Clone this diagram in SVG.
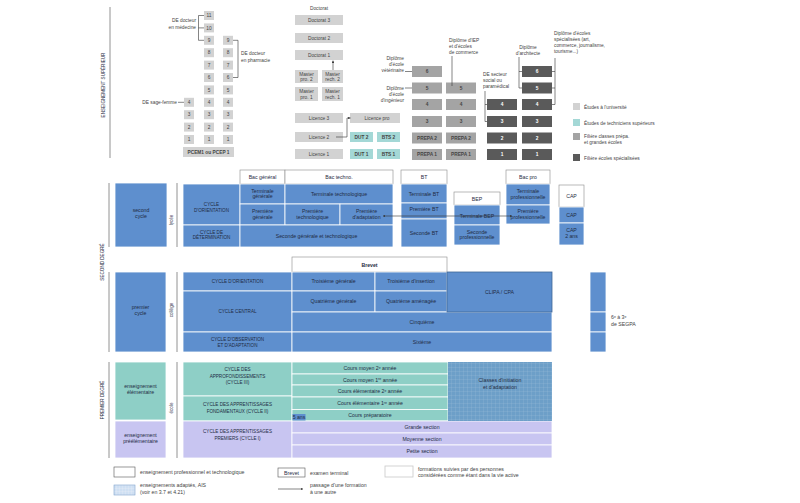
<svg xmlns="http://www.w3.org/2000/svg" width="800" height="503" viewBox="0 0 800 503">
<style>
text{font-family:"Liberation Sans",Arial,sans-serif;font-size:5.2px;fill:#1f2c44;text-anchor:middle}
.l{text-anchor:start}.r{text-anchor:end}
.g{fill:#444}.w{fill:#fff}
.cap{font-size:4.6px}
.sm{font-size:4.8px}
.u{fill:#d2d2d2}
.tc{fill:#a4d8d6}
.pp{fill:#a4a4a4}
.dk{fill:#5a5a5a}
.b{fill:#5e8fce;stroke:#fff;stroke-width:0.8}
.te{fill:#8ecfc6;stroke:#fff;stroke-width:0.8}
.lv{fill:#c8c5f1;stroke:#fff;stroke-width:0.8}
.h{fill:#fff;stroke:#8a8a8a;stroke-width:0.6}
.c{fill:none;stroke:#333;stroke-width:0.6}
.rule{fill:none;stroke:#777;stroke-width:0.8}
</style>
<defs>
<marker id="ah" viewBox="0 0 6 6" refX="6" refY="3" markerWidth="4" markerHeight="4" orient="auto-start-reverse"><path d="M0,0 L6,3 L0,6 z" fill="#333"/></marker>
<pattern id="grid" width="4" height="4" patternUnits="userSpaceOnUse"><rect width="4" height="4" fill="#6d9fc8"/><path d="M4 0V4H0" fill="none" stroke="#a3c3de" stroke-width="0.4"/></pattern>
<pattern id="gridl" width="3" height="3" patternUnits="userSpaceOnUse"><rect width="3" height="3" fill="#cfe0f3"/><path d="M3 0V3H0" fill="none" stroke="#f4f8fc" stroke-width="0.4"/></pattern>
</defs>

<!-- section labels and rules -->
<g id="sections">
<line class="rule" x1="110" y1="7" x2="110" y2="158"/>
<text class="cap" transform="translate(105,85) rotate(-90)">ENSEIGNEMENT SUPÉRIEUR</text>
<line class="rule" x1="109" y1="183" x2="109" y2="247"/>
<line class="rule" x1="109" y1="272" x2="109" y2="352"/>
<text class="cap" transform="translate(104,262) rotate(-90)">SECOND DEGRÉ</text>
<line class="rule" x1="109" y1="362" x2="109" y2="458"/>
<text class="cap" transform="translate(104,400) rotate(-90)">PREMIER DEGRÉ</text>
<line class="rule" x1="177" y1="183" x2="177" y2="247"/>
<text class="cap" transform="translate(173,220) rotate(-90)">lycée</text>
<line class="rule" x1="177" y1="272" x2="177" y2="352"/>
<text class="cap" transform="translate(173,310) rotate(-90)">collège</text>
<line class="rule" x1="177" y1="362" x2="177" y2="458"/>
<text class="cap" transform="translate(173,408) rotate(-90)">école</text>
</g>

<!-- medical studies -->
<g id="medecine-sagefemme">
<rect class="u" x="184" y="97.8" width="10" height="9"/><text class="g sm" x="189" y="104">4</text>
<rect class="u" x="184" y="110.2" width="10" height="9"/><text class="g sm" x="189" y="116.4">3</text>
<rect class="u" x="184" y="122.6" width="10" height="9"/><text class="g sm" x="189" y="128.8">2</text>
<rect class="u" x="184" y="135" width="10" height="9"/><text class="g sm" x="189" y="141.2">1</text>
</g>
<g id="medecine">
<rect class="u" x="204" y="11" width="10" height="9"/><text class="g sm" x="209" y="17.2">11</text>
<rect class="u" x="204" y="23.4" width="10" height="9"/><text class="g sm" x="209" y="29.6">10</text>
<rect class="u" x="204" y="35.8" width="10" height="9"/><text class="g sm" x="209" y="42">9</text>
<rect class="u" x="204" y="48.2" width="10" height="9"/><text class="g sm" x="209" y="54.4">8</text>
<rect class="u" x="204" y="60.6" width="10" height="9"/><text class="g sm" x="209" y="66.8">7</text>
<rect class="u" x="204" y="73" width="10" height="9"/><text class="g sm" x="209" y="79.2">6</text>
<rect class="u" x="204" y="85.4" width="10" height="9"/><text class="g sm" x="209" y="91.6">5</text>
<rect class="u" x="204" y="97.8" width="10" height="9"/><text class="g sm" x="209" y="104">4</text>
<rect class="u" x="204" y="110.2" width="10" height="9"/><text class="g sm" x="209" y="116.4">3</text>
<rect class="u" x="204" y="122.6" width="10" height="9"/><text class="g sm" x="209" y="128.8">2</text>
<rect class="u" x="204" y="135" width="10" height="9"/><text class="g sm" x="209" y="141.2">1</text>
</g>
<g id="pharmacie">
<rect class="u" x="223" y="35.8" width="10" height="9"/><text class="g sm" x="228" y="42">9</text>
<rect class="u" x="223" y="48.2" width="10" height="9"/><text class="g sm" x="228" y="54.4">8</text>
<rect class="u" x="223" y="60.6" width="10" height="9"/><text class="g sm" x="228" y="66.8">7</text>
<rect class="u" x="223" y="73" width="10" height="9"/><text class="g sm" x="228" y="79.2">6</text>
<rect class="u" x="223" y="85.4" width="10" height="9"/><text class="g sm" x="228" y="91.6">5</text>
<rect class="u" x="223" y="97.8" width="10" height="9"/><text class="g sm" x="228" y="104">4</text>
<rect class="u" x="223" y="110.2" width="10" height="9"/><text class="g sm" x="228" y="116.4">3</text>
<rect class="u" x="223" y="122.6" width="10" height="9"/><text class="g sm" x="228" y="128.8">2</text>
<rect class="u" x="223" y="135" width="10" height="9"/><text class="g sm" x="228" y="141.2">1</text>
</g>
<g id="pcem">
<rect class="u" x="183" y="147" width="51" height="10"/><text class="g sm" x="208.5" y="153.8" font-weight="bold">PCEM1 ou PCEP 1</text>
</g>
<g id="med-labels">
<text class="g l sm r" x="196" y="22">DE docteur</text>
<text class="g sm r" x="196" y="28.5">en médecine</text>
<text class="g sm l" x="241" y="55">DE docteur</text>
<text class="g sm l" x="241" y="61.5">en pharmacie</text>
<text class="g sm r" x="177" y="104">DE sage-femme</text>
</g>

<!-- university -->
<g id="doctorat">
<text class="g sm" x="319" y="10">Doctorat</text>
<rect class="u" x="295" y="15" width="48" height="10"/><text class="g sm" x="319" y="21.8">Doctorat 3</text>
<rect class="u" x="295" y="33" width="48" height="10"/><text class="g sm" x="319" y="39.8">Doctorat 2</text>
<rect class="u" x="295" y="50" width="48" height="10"/><text class="g sm" x="319" y="56.8">Doctorat 1</text>
</g>
<g id="master">
<rect class="u" x="295" y="70" width="23" height="13"/><text class="g sm" x="306.5" y="75.5">Master</text><text class="g sm" x="306.5" y="81">pro. 2</text>
<rect class="u" x="322" y="70" width="21" height="13"/><text class="g sm" x="332.5" y="75.5">Master</text><text class="g sm" x="332.5" y="81">rech. 2</text>
<rect class="u" x="295" y="87" width="23" height="14"/><text class="g sm" x="306.5" y="93">Master</text><text class="g sm" x="306.5" y="98.8">pro. 1</text>
<rect class="u" x="322" y="87" width="21" height="14"/><text class="g sm" x="332.5" y="93">Master</text><text class="g sm" x="332.5" y="98.8">rech. 1</text>
</g>
<g id="licence">
<rect class="u" x="295" y="113" width="48" height="10"/><text class="g sm" x="319" y="119.8">Licence 3</text>
<rect class="u" x="295" y="132" width="48" height="10"/><text class="g sm" x="319" y="138.8">Licence 2</text>
<rect class="u" x="295" y="149" width="48" height="10"/><text class="g sm" x="319" y="155.8">Licence 1</text>
<rect class="u" x="350" y="113" width="50" height="10"/><text class="g sm" x="377" y="119.8">Licence pro</text>
</g>
<g id="dut-bts">
<rect class="tc" x="350" y="132" width="23" height="10"/><text class="g sm" x="361.5" y="138.8" font-weight="bold">DUT 2</text>
<rect class="tc" x="377" y="132" width="23" height="10"/><text class="g sm" x="388.5" y="138.8" font-weight="bold">BTS 2</text>
<rect class="tc" x="350" y="149" width="23" height="10"/><text class="g sm" x="361.5" y="155.8" font-weight="bold">DUT 1</text>
<rect class="tc" x="377" y="149" width="23" height="10"/><text class="g sm" x="388.5" y="155.8" font-weight="bold">BTS 1</text>
</g>

<!-- grandes écoles -->
<g id="veterinaire-ingenieur">
<rect class="pp" x="412" y="66" width="30" height="11"/><text class="g sm" x="427" y="73.3" font-weight="bold">6</text>
<rect class="pp" x="412" y="82.5" width="30" height="11"/><text class="g sm" x="427" y="89.8" font-weight="bold">5</text>
<rect class="pp" x="412" y="99" width="30" height="11"/><text class="g sm" x="427" y="106.3" font-weight="bold">4</text>
<rect class="pp" x="412" y="116" width="30" height="11"/><text class="g sm" x="427" y="123.3" font-weight="bold">3</text>
<rect class="pp" x="412" y="132.5" width="30" height="11"/><text class="g sm" x="427" y="139.8" font-weight="bold">PREPA 2</text>
<rect class="pp" x="412" y="149" width="30" height="11"/><text class="g sm" x="427" y="156.3" font-weight="bold">PREPA 1</text>
</g>
<g id="iep-commerce">
<rect class="pp" x="446" y="82.5" width="30" height="11"/><text class="g sm" x="461" y="89.8" font-weight="bold">5</text>
<rect class="pp" x="446" y="99" width="30" height="11"/><text class="g sm" x="461" y="106.3" font-weight="bold">4</text>
<rect class="pp" x="446" y="116" width="30" height="11"/><text class="g sm" x="461" y="123.3" font-weight="bold">3</text>
<rect class="pp" x="446" y="132.5" width="30" height="11"/><text class="g sm" x="461" y="139.8" font-weight="bold">PREPA 2</text>
<rect class="pp" x="446" y="149" width="30" height="11"/><text class="g sm" x="461" y="156.3" font-weight="bold">PREPA 1</text>
</g>
<g id="social-paramedical">
<rect class="dk" x="487" y="99" width="30" height="11"/><text class="w sm" x="502" y="106.3" font-weight="bold">4</text>
<rect class="dk" x="487" y="116" width="30" height="11"/><text class="w sm" x="502" y="123.3" font-weight="bold">3</text>
<rect class="dk" x="487" y="132.5" width="30" height="11"/><text class="w sm" x="502" y="139.8" font-weight="bold">2</text>
<rect class="dk" x="487" y="149" width="30" height="11"/><text class="w sm" x="502" y="156.3" font-weight="bold">1</text>
</g>
<g id="architecte-specialisees">
<rect class="dk" x="522" y="66" width="30" height="11"/><text class="w sm" x="537" y="73.3" font-weight="bold">6</text>
<rect class="dk" x="522" y="82.5" width="30" height="11"/><text class="w sm" x="537" y="89.8" font-weight="bold">5</text>
<rect class="dk" x="522" y="99" width="30" height="11"/><text class="w sm" x="537" y="106.3" font-weight="bold">4</text>
<rect class="dk" x="522" y="116" width="30" height="11"/><text class="w sm" x="537" y="123.3" font-weight="bold">3</text>
<rect class="dk" x="522" y="132.5" width="30" height="11"/><text class="w sm" x="537" y="139.8" font-weight="bold">2</text>
<rect class="dk" x="522" y="149" width="30" height="11"/><text class="w sm" x="537" y="156.3" font-weight="bold">1</text>
</g>
<g id="ecoles-labels">
<text class="g sm r" x="404" y="60">Diplôme</text><text class="g sm r" x="404" y="66">d'école</text><text class="g sm r" x="404" y="72">vétérinaire</text>
<text class="g sm r" x="404" y="89.5">Diplôme</text><text class="g sm r" x="404" y="95.5">d'école</text><text class="g sm r" x="404" y="101.5">d'ingénieur</text>
<text class="g sm l" x="449" y="42">Diplôme d'IEP</text><text class="g sm l" x="449" y="48">et d'écoles</text><text class="g sm l" x="449" y="54">de commerce</text>
<text class="g sm l" x="483" y="76">DE secteur</text><text class="g sm l" x="483" y="82">social ou</text><text class="g sm l" x="483" y="88">paramédical</text>
<text class="g sm" x="528" y="49">Diplôme</text><text class="g sm" x="528" y="55">d'architecte</text>
<text class="g sm l" x="554" y="35">Diplôme d'écoles</text><text class="g sm l" x="554" y="41">spécialisées (art,</text><text class="g sm l" x="554" y="47">commerce, journalisme,</text><text class="g sm l" x="554" y="53">tourisme...)</text>
</g>

<!-- legend top -->
<g id="legend-sup">
<rect class="u" x="573" y="103" width="7" height="7"/><text class="g sm l" x="584" y="108.5">Études à l'université</text>
<rect class="tc" x="573" y="119" width="7" height="7"/><text class="g sm l" x="584" y="124.5">Études de techniciens supérieurs</text>
<rect class="pp" x="573" y="133" width="7" height="7"/><text class="g sm l" x="584" y="137.5">Filière classes prépa.</text><text class="g sm l" x="584" y="143.5">et grandes écoles</text>
<rect class="dk" x="573" y="154" width="7" height="7"/><text class="g sm l" x="584" y="159.5">Filière écoles spécialisées</text>
</g>

<!-- second degré : lycée -->
<g id="second-cycle"><rect class="b" x="115" y="183" width="52" height="64"/><text x="141" y="212">second</text><text x="141" y="218">cycle</text></g>
<g id="lycee-cycles">
<rect class="b" x="183" y="184" width="57" height="41"/><text class="cap" x="211.5" y="206">CYCLE</text><text class="cap" x="211.5" y="211.5">D'ORIENTATION</text>
<rect class="b" x="183" y="225" width="57" height="22"/><text class="cap" x="211.5" y="233.5">CYCLE DE</text><text class="cap" x="211.5" y="239">DÉTERMINATION</text>
</g>
<g id="bac-general">
<rect class="h" x="240" y="170" width="45" height="14"/><text x="262.5" y="179.3" fill="#222">Bac général</text>
<rect class="b" x="240" y="184" width="45" height="20"/><text x="262.5" y="192.5">Terminale</text><text x="262.5" y="198">générale</text>
<rect class="b" x="240" y="204" width="45" height="21"/><text x="262.5" y="213">Première</text><text x="262.5" y="218.5">générale</text>
</g>
<g id="bac-techno">
<rect class="h" x="285" y="170" width="108" height="14"/><text x="339" y="179.3" fill="#222">Bac techno.</text>
<rect class="b" x="285" y="184" width="108" height="20"/><text x="339" y="195.8">Terminale technologique</text>
<rect class="b" x="285" y="204" width="55" height="21"/><text x="312.5" y="213">Première</text><text x="312.5" y="218.5">technologique</text>
<rect class="b" x="340" y="204" width="53" height="21"/><text x="366.5" y="213">Première</text><text x="366.5" y="218.5">d'adaptation</text>
</g>
<g id="seconde-gt"><rect class="b" x="240" y="225" width="153" height="22"/><text x="316.5" y="237.8">Seconde générale et technologique</text></g>
<g id="bt">
<rect class="h" x="401" y="170" width="46" height="14"/><text x="424" y="179.3" fill="#222">BT</text>
<rect class="b" x="401" y="184" width="46" height="19"/><text x="424" y="195.5">Terminale BT</text>
<rect class="b" x="401" y="203" width="46" height="16"/><text x="424" y="211">Première BT</text>
<rect class="b" x="401" y="219" width="46" height="28"/><text x="424" y="235">Seconde BT</text>
</g>
<g id="bep">
<rect class="h" x="454" y="192" width="46" height="13"/><text x="477" y="200.5" fill="#222">BEP</text>
<rect class="b" x="454" y="205" width="46" height="20"/><text x="477" y="217.5">Terminale BEP</text>
<rect class="b" x="454" y="225" width="46" height="20"/><text x="477" y="233.5">Seconde</text><text x="477" y="239">professionnelle</text>
</g>
<g id="bac-pro">
<rect class="h" x="506" y="170" width="44" height="14"/><text x="528" y="179.3" fill="#222">Bac pro</text>
<rect class="b" x="506" y="184" width="44" height="21"/><text x="528" y="193">Terminale</text><text x="528" y="198.5">professionnelle</text>
<rect class="b" x="506" y="205" width="44" height="19"/><text x="528" y="213">Première</text><text x="528" y="218.5">professionnelle</text>
</g>
<g id="cap">
<rect class="h" x="559" y="185" width="25" height="22"/><text x="571.5" y="198" fill="#222">CAP</text>
<rect class="b" x="559" y="207" width="25" height="16"/><text x="571.5" y="217">CAP</text>
<rect class="b" x="559" y="223" width="25" height="22"/><text x="571.5" y="232">CAP</text><text x="571.5" y="238">2 ans</text>
</g>

<!-- second degré : collège -->
<g id="premier-cycle"><rect class="b" x="115" y="272" width="51" height="80"/><text x="140.5" y="309">premier</text><text x="140.5" y="315">cycle</text></g>
<g id="college-cycles">
<rect class="b" x="183" y="272" width="109" height="19"/><text class="cap" x="237.5" y="283.2">CYCLE D'ORIENTATION</text>
<rect class="b" x="183" y="291" width="109" height="41"/><text class="cap" x="237.5" y="313">CYCLE CENTRAL</text>
<rect class="b" x="183" y="332" width="109" height="20"/><text class="cap" x="237.5" y="340.5">CYCLE D'OBSERVATION</text><text class="cap" x="237.5" y="346.5">ET D'ADAPTATION</text>
</g>
<g id="brevet"><rect class="h" x="292" y="257" width="155" height="15"/><text x="369.5" y="266.5" fill="#222" font-weight="bold">Brevet</text></g>
<g id="college-classes">
<rect class="b" x="292" y="272" width="83" height="19"/><text x="333.5" y="283.2">Troisième générale</text>
<rect class="b" x="375" y="272" width="72" height="19"/><text x="411" y="283.2">Troisième d'insertion</text>
<rect class="b" x="292" y="291" width="83" height="21"/><text x="333.5" y="303">Quatrième générale</text>
<rect class="b" x="375" y="291" width="72" height="21"/><text x="411" y="303">Quatrième aménagée</text>
<rect class="b" x="292" y="312" width="260" height="20"/><text x="422" y="323.5">Cinquième</text>
<rect class="b" x="292" y="332" width="260" height="20"/><text x="422" y="343.5">Sixième</text>
</g>
<g id="clipa"><rect x="447" y="272" width="105" height="40" fill="#5e8fce" stroke="#3f6796" stroke-width="0.8"/><text x="499.5" y="293.5">CLIPA / CPA</text></g>
<g id="segpa">
<rect class="b" x="590" y="272" width="16" height="40"/><rect class="b" x="590" y="312" width="16" height="20"/><rect class="b" x="590" y="332" width="16" height="20"/>
<text class="g l" x="611" y="319">6<tspan dy="-1.5" font-size="3.5">e</tspan><tspan dy="1.5"> à 3</tspan><tspan dy="-1.5" font-size="3.5">e</tspan></text>
<text class="g l" x="611" y="326">de SEGPA</text>
</g>

<!-- premier degré -->
<g id="elementaire"><rect class="te" x="115" y="362" width="51" height="58"/><text x="140.5" y="388">enseignement</text><text x="140.5" y="394">élémentaire</text></g>
<g id="preelementaire"><rect class="lv" x="115" y="421" width="51" height="37"/><text x="140.5" y="436.5">enseignement</text><text x="140.5" y="442.5">préélémentaire</text></g>
<g id="ecole-cycles">
<rect class="te" x="183" y="362" width="109" height="34"/><text class="cap" x="237.5" y="371">CYCLE DES</text><text class="cap" x="237.5" y="377.5">APPROFONDISSEMENTS</text><text class="cap" x="237.5" y="384">(CYCLE III)</text>
<rect class="te" x="183" y="396" width="109" height="25"/><text class="cap" x="237.5" y="406">CYCLE DES APPRENTISSAGES</text><text class="cap" x="237.5" y="412.5">FONDAMENTAUX (CYCLE II)</text>
<rect class="lv" x="183" y="421" width="109" height="37"/><text class="cap" x="237.5" y="433">CYCLE DES APPRENTISSAGES</text><text class="cap" x="237.5" y="439.5">PREMIERS (CYCLE I)</text>
</g>
<g id="ecole-classes">
<rect class="te" x="292" y="362" width="156" height="12"/><text x="370" y="370">Cours moyen 2<tspan dy="-1.5" font-size="3.5">e</tspan><tspan dy="1.5"> année</tspan></text>
<rect class="te" x="292" y="374" width="156" height="11"/><text x="370" y="381.5">Cours moyen 1<tspan dy="-1.5" font-size="3.5">re</tspan><tspan dy="1.5"> année</tspan></text>
<rect class="te" x="292" y="385" width="156" height="12"/><text x="370" y="393">Cours élémentaire 2<tspan dy="-1.5" font-size="3.5">e</tspan><tspan dy="1.5"> année</tspan></text>
<rect class="te" x="292" y="397" width="156" height="12.5"/><text x="370" y="405">Cours élémentaire 1<tspan dy="-1.5" font-size="3.5">re</tspan><tspan dy="1.5"> année</tspan></text>
<rect class="te" x="292" y="409.5" width="156" height="11.5"/><text x="370" y="417.2">Cours préparatoire</text>
<rect class="lv" x="292" y="421" width="260" height="12"/><text x="422" y="429">Grande section</text>
<rect class="lv" x="292" y="433" width="260" height="12"/><text x="422" y="441">Moyenne section</text>
<rect class="lv" x="292" y="445" width="260" height="13"/><text x="422" y="453.3">Petite section</text>
</g>
<g id="cinq-ans"><rect x="292.5" y="414" width="13" height="6.5" fill="#5e8fce"/><text x="299" y="419" font-size="3.6">5 ans</text></g>
<g id="classes-initiation"><rect x="448" y="362" width="104" height="59" fill="url(#grid)"/><text x="500" y="382">Classes d'initiation</text><text x="500" y="389">et d'adaptation</text></g>

<!-- connectors -->
<g id="connectors">
<path class="c" d="M198.5,15.5 H204 M198.5,27.9 H204 M198.5,40.3 H204 M198.5,15.5 V40.3"/>
<path class="c" d="M233,40.3 H238 V77.5 H233"/>
<path class="c" d="M178,102.3 H184"/>
<path class="c" d="M333,70 V60.5" marker-end="url(#ah)"/>
<path class="c" d="M336,137 H347 V118 H350.5" marker-end="url(#ah)"/>
<path class="c" d="M405,71.5 H412 M405,88 H412"/>
<path class="c" d="M452,56 V86"/>
<path class="c" d="M485,91 V121.5 H487 M485,104.5 H487"/>
<path class="c" d="M519,57 V88 H522 M519,71.5 H522"/>
<path class="c" d="M555,58 V104.5 H552 M555,71.5 H552 M555,88 H552"/>
<path class="c" d="M477,216 H383" marker-end="url(#ah)"/>
<path class="c" d="M477,216 H512" marker-end="url(#ah)"/>
</g>

<!-- bottom legend -->
<g id="legend-bottom">
<rect x="114" y="467" width="21" height="10" fill="#fff" stroke="#555" stroke-width="0.6"/>
<text class="g l" x="140" y="474">enseignement professionnel et technologique</text>
<rect x="114" y="485" width="21" height="10" fill="url(#gridl)" stroke="#7ea2cc" stroke-width="0.6"/>
<text class="g l" x="140" y="487">enseignements adaptés, AIS</text>
<text class="g l" x="140" y="493.5">(voir en 3.7 et 4.21)</text>
<rect x="278" y="468" width="27" height="9" fill="#fff" stroke="#555" stroke-width="0.6"/>
<text x="291.5" y="474.5" fill="#222">Brevet</text>
<text class="g l" x="310" y="474.5">examen terminal</text>
<path class="c" d="M278,489 H303" marker-end="url(#ah)"/>
<text class="g l" x="310" y="487">passage d'une formation</text>
<text class="g l" x="310" y="493.5">à une autre</text>
<rect x="385" y="466" width="28" height="11" fill="#fff" stroke="#c8c8c8" stroke-width="0.8"/>
<text class="g l" x="418" y="470.5">formations suivies par des personnes</text>
<text class="g l" x="418" y="477">considérées comme étant dans la vie active</text>
</g>
</svg>
